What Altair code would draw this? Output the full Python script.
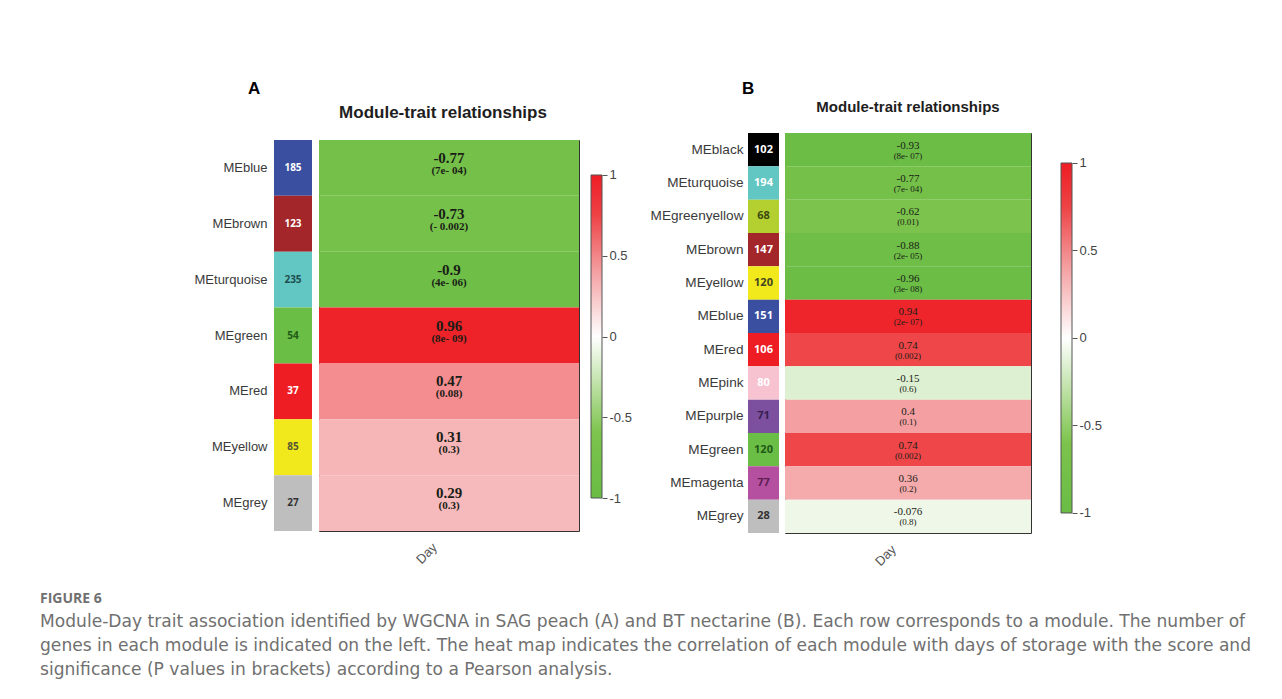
import altair as alt
import pandas as pd

# ---- Panel A: SAG peach ----
modules_a = ["MEblue", "MEbrown", "MEturquoise", "MEgreen", "MEred", "MEyellow", "MEgrey"]
genes_a = [185, 123, 235, 54, 37, 85, 27]
cor_a = [-0.77, -0.73, -0.9, 0.96, 0.47, 0.31, 0.29]
pval_a = ["(7e- 04)", "(- 0.002)", "(4e- 06)", "(8e- 09)", "(0.08)", "(0.3)", "(0.3)"]

# ---- Panel B: BT nectarine ----
modules_b = ["MEblack", "MEturquoise", "MEgreenyellow", "MEbrown", "MEyellow", "MEblue",
             "MEred", "MEpink", "MEpurple", "MEgreen", "MEmagenta", "MEgrey"]
genes_b = [102, 194, 68, 147, 120, 151, 106, 80, 71, 120, 77, 28]
cor_b = [-0.93, -0.77, -0.62, -0.88, -0.96, 0.94, 0.74, -0.15, 0.4, 0.74, 0.36, -0.076]
pval_b = ["(8e- 07)", "(7e- 04)", "(0.01)", "(2e- 05)", "(3e- 08)", "(2e- 07)",
          "(0.002)", "(0.6)", "(0.1)", "(0.002)", "(0.2)", "(0.8)"]

trait = "Day"
legend_ticks = [-1, -0.5, 0, 0.5, 1]

caption_head = "FIGURE 6"
caption_lines = [
    "Module-Day trait association identified by WGCNA in SAG peach (A) and BT nectarine (B). Each row corresponds to a module. The number of",
    "genes in each module is indicated on the left. The heat map indicates the correlation of each module with days of storage with the score and",
    "significance (P values in brackets) according to a Pearson analysis.",
]

# module colour swatches
MODULE_FILL = {
    "MEblue": "#3b4fa1", "MEbrown": "#a3262a", "MEturquoise": "#62c6c3", "MEgreen": "#6abd45",
    "MEred": "#ee1d24", "MEyellow": "#f1e91b", "MEgrey": "#bebebe", "MEblack": "#000000",
    "MEgreenyellow": "#b3cf30", "MEpink": "#f7c3d0", "MEpurple": "#7c4f9f", "MEmagenta": "#b550a0",
}
# ink used for the gene counts on each swatch
INK_A = {"MEblue": "#ffffff", "MEbrown": "#ffffff", "MEturquoise": "#1d4f4e", "MEgreen": "#1f5a16",
         "MEred": "#ffffff", "MEyellow": "#555533", "MEgrey": "#333333"}
INK_B = {"MEblack": "#ffffff", "MEturquoise": "#ffffff", "MEgreenyellow": "#3c4a10", "MEbrown": "#ffffff",
         "MEyellow": "#444422", "MEblue": "#ffffff", "MEred": "#ffffff", "MEpink": "#ffffff",
         "MEpurple": "#35204f", "MEgreen": "#1f5a16", "MEmagenta": "#5e1f52", "MEgrey": "#333333"}

# green - white - red correlation scale
HEAT_DOMAIN = [-1, -0.6, 0, 0.4, 0.75, 1]
HEAT_RANGE = ["#69bc45", "#7cc34c", "#ffffff", "#f4a0a2", "#ee4346", "#ee1d24"]
heat_scale = alt.Scale(domain=HEAT_DOMAIN, range=HEAT_RANGE, interpolate="rgb")

SANS = "Liberation Sans"
SERIF = "Liberation Serif"


def frame(modules, genes, cor, pval, ink):
    return pd.DataFrame({
        "module": modules,
        "genes": genes,
        "cor": cor,
        "label": [f"{v:g}" for v in cor],
        "pval": pval,
        "trait": [trait] * len(modules),
        "ink": [ink[m] for m in modules],
    })


def swatch_column(df, width, height, letter, letter_dx, letter_offset, label_size, label_pad, count_size):
    base = alt.Chart(df).encode(
        y=alt.Y("module:N", sort=list(df["module"]),
                axis=alt.Axis(title=None, ticks=False, domain=False, labelFont=SANS,
                              labelFontSize=label_size, labelColor="#3a3a3a", labelPadding=label_pad))
    )
    rect = base.mark_rect().encode(
        fill=alt.Fill("module:N", scale=alt.Scale(domain=list(MODULE_FILL.keys()),
                                                  range=list(MODULE_FILL.values())), legend=None)
    )
    count = base.mark_text(font="Open Sans", fontSize=count_size, fontWeight="bold").encode(
        text=alt.Text("genes:Q"),
        color=alt.Color("ink:N", scale=None),
    )
    return alt.layer(rect, count).properties(
        width=width, height=height,
        title=alt.TitleParams(letter, anchor="start", frame="group", dx=letter_dx, offset=letter_offset,
                              font=SANS, fontSize=17, fontWeight="bold", color="#000000"),
        view=alt.ViewBackground(stroke=None),
    )


def heat_panel(df, width, height, title_size, title_offset, title_dx, val_size, p_size, bold, val_dy, p_dy):
    base = alt.Chart(df).encode(
        x=alt.X("trait:N", axis=alt.Axis(title=None, ticks=False, domain=False, labelAngle=315,
                                         labelAlign="right", labelBaseline="middle", labelFont=SANS,
                                         labelFontSize=13, labelColor="#555555", labelPadding=14,
                                         labelOffset=-14)),
        y=alt.Y("module:N", sort=list(df["module"]), axis=None),
    )
    rect = base.mark_rect().encode(fill=alt.Fill("cor:Q", scale=heat_scale, legend=None))
    weight = "bold" if bold else "normal"
    val = base.mark_text(font=SERIF, fontSize=val_size, fontWeight=weight, dy=val_dy,
                         color="#1a1d16").encode(text="label:N")
    pv = base.mark_text(font=SERIF, fontSize=p_size, fontWeight=weight, dy=p_dy,
                        color="#1a1d16").encode(text="pval:N")
    return alt.layer(rect, val, pv).properties(
        width=width, height=height,
        title=alt.TitleParams("Module-trait relationships", offset=title_offset, dx=title_dx, font=SANS,
                              fontSize=title_size, fontWeight="bold", color="#1e1e1e"),
        view=alt.ViewBackground(stroke="#333333", strokeWidth=1),
    )


def colorbar(height, lo, hi):
    stops = [alt.GradientStop(offset=(v + 1) / 2, color=c) for v, c in zip(HEAT_DOMAIN, HEAT_RANGE)]
    grad = alt.LinearGradient(gradient="linear", stops=stops, x1=0, x2=0, y1=1, y2=0)
    span = pd.DataFrame({"lo": [legend_ticks[0]], "hi": [legend_ticks[-1]]})
    return alt.Chart(span).mark_rect(fill=grad, stroke="#555555", strokeWidth=1).encode(
        y=alt.Y("lo:Q", scale=alt.Scale(domain=[lo, hi], nice=False, zero=False),
                axis=alt.Axis(orient="right", values=legend_ticks, title=None, domain=False, grid=False,
                              tickColor="#555555", tickSize=5, labelFont=SANS, labelFontSize=13,
                              labelColor="#444444", labelPadding=2, labelExpr="datum.value + ''")),
        y2="hi:Q",
    ).properties(width=11, height=height, view=alt.ViewBackground(stroke=None))


# empty strip used to drop panel A a few pixels below panel B
spacer = alt.Chart(pd.DataFrame({"v": [0]})).mark_point(opacity=0).properties(
    width=1, height=1, view=alt.ViewBackground(stroke=None))

df_a = frame(modules_a, genes_a, cor_a, pval_a, INK_A)
df_b = frame(modules_b, genes_b, cor_b, pval_b, INK_B)

panel_a = alt.vconcat(
    spacer,
    alt.hconcat(
        alt.hconcat(
            swatch_column(df_a, 38, 391, "A", -26, 42, 13, 7, 10),
            heat_panel(df_a, 260, 391, 17, 18, -6, 15, 11, True, -10, 3),
            spacing=6,
        ),
        colorbar(391, -1.2043, 1.2167),
        spacing=10,
    ),
    spacing=-57,
)

panel_b = alt.hconcat(
    alt.hconcat(
        swatch_column(df_b, 31, 400, "B", -6, 35, 13.6, 5, 11),
        heat_panel(df_b, 246, 400, 15, 18, 0, 11, 9, False, -4, 6),
        spacing=5,
    ),
    colorbar(400, -1.1143, 1.1714),
    spacing=28,
)

chart = alt.hconcat(panel_a, panel_b, spacing=18).properties(
    title=alt.TitleParams(
        caption_head, subtitle=caption_lines, orient="bottom", anchor="start", frame="bounds",
        dx=-154, offset=23, font="Open Sans", fontSize=14, fontWeight="bold", color="#707070",
        subtitleFont="DejaVu Sans", subtitleFontSize=17.1, subtitleColor="#707070",
        subtitleLineHeight=24, subtitlePadding=7,
    ),
    padding={"left": 40, "top": 80, "right": 10, "bottom": 10},
).configure(background="#ffffff")

chart.save("out.html", embed_options={"renderer": "svg", "actions": False})
